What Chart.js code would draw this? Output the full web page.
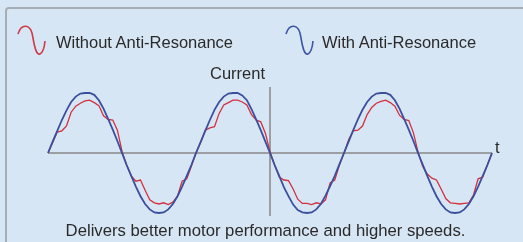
<!DOCTYPE html>
<html lang="en">
<head>
    <meta charset="UTF-8">
    <title>Anti-Resonance</title>
    <script src="https://cdn.jsdelivr.net/npm/chart.js"></script>
    <style>
        body { margin: 0; background: #d7e6f5; font-family: Arial, "Liberation Sans", sans-serif; color: #2a2a2a; }
        #wrap { position: relative; width: 523px; height: 242px; overflow: hidden; }
        #panel { position: absolute; left: 5px; top: 7px; width: 560px; height: 280px; border: 2px solid #a6adb5; border-radius: 4px; }
        canvas { position: absolute; left: 0; top: 0; }
        .lbl { position: absolute; font-size: 16.5px; line-height: 20px; white-space: nowrap; }
    </style>
</head>
<body>
<div id="wrap">
    <div id="panel"></div>
    <canvas id="waveChart" width="523" height="242"></canvas>
    <div class="lbl" style="left:56px; top:32px">Without Anti-Resonance</div>
    <div class="lbl" style="left:322px; top:32px">With Anti-Resonance</div>
    <div class="lbl" style="left:210px; top:63px">Current</div>
    <div class="lbl" style="left:495px; top:137px">t</div>
    <div class="lbl" style="left:0; width:531px; text-align:center; top:221px; font-size:16.7px">Delivers better motor performance and higher speeds.</div>
</div>
<script>
    // samples along t, 16 per half cycle
    const timeSteps = Array.from({ length: 97 }, (_, i) => i);

    const withAntiResonance = [
        0, .19, .37, .55, .71, .85, .94, .99, 1.0, 1.0, .97, .88, .74, .57, .39, .20, 0,
        -.2, -.38, -.56, -.72, -.85, -.94, -.99, -1.0, -.99, -.94, -.85, -.72, -.56, -.38, -.2, 0,
        .18, .37, .55, .72, .85, .94, .99, 1.0, 1.0, .96, .88, .73, .56, .38, .19, 0,
        -.2, -.38, -.57, -.72, -.86, -.95, -.99, -1.0, -.99, -.94, -.85, -.71, -.55, -.38, -.19, 0,
        .19, .38, .56, .72, .85, .94, .99, 1.0, 1.0, .97, .88, .74, .57, .39, .2, 0,
        -.19, -.38, -.56, -.72, -.85, -.94, -.99, -1.0, -.99, -.94, -.85, -.72, -.56, -.38, -.2, 0
    ];

    const withoutAntiResonance = [
        0, .17, .35, .37, .45, .68, .78, .83, .87, .88, .84, .79, .62, .56, .55, .38, .03,
        -.2, -.38, -.47, -.45, -.62, -.78, -.83, -.85, -.83, -.86, -.82, -.72, -.47, -.43, -.22, 0,
        .18, .38, .42, .44, .66, .8, .84, .88, .88, .85, .8, .64, .55, .52, .33, .02,
        -.2, -.4, -.45, -.46, -.6, -.77, -.84, -.84, -.86, -.83, -.85, -.78, -.5, -.45, -.2, 0,
        .22, .37, .38, .45, .64, .76, .83, .86, .88, .84, .78, .63, .56, .54, .34, .02,
        -.22, -.35, -.42, -.45, -.6, -.76, -.83, -.84, -.85, -.84, -.83, -.7, -.43, -.4, -.2, 0
    ];

    const axisLines = {
        id: "axisLines",
        beforeDatasetsDraw(chart) {
            const { ctx, chartArea, scales: { x, y } } = chart;
            ctx.save();
            ctx.strokeStyle = "#9c9ea2";
            ctx.lineWidth = 2;
            ctx.beginPath();
            ctx.moveTo(chartArea.left, y.getPixelForValue(0));
            ctx.lineTo(chartArea.right, y.getPixelForValue(0));
            const vx = Math.round(x.getPixelForValue(48));
            ctx.moveTo(vx, y.getPixelForValue(1.1));
            ctx.lineTo(vx, y.getPixelForValue(-1.05));
            ctx.stroke();
            ctx.restore();
        },
        afterDraw(chart) {
            // little sine glyphs for the legend
            const ctx = chart.ctx;
            function glyph(x0, color) {
                ctx.save();
                ctx.strokeStyle = color;
                ctx.lineWidth = 1.6;
                ctx.beginPath();
                ctx.moveTo(x0, 34);
                ctx.bezierCurveTo(x0 + 3, 24, x0 + 13, 22, x0 + 15, 38);
                ctx.bezierCurveTo(x0 + 17, 50, x0 + 19, 55, x0 + 22, 54);
                ctx.quadraticCurveTo(x0 + 26, 52, x0 + 27, 41);
                ctx.stroke();
                ctx.restore();
            }
            glyph(18, "#cf3a48");
            glyph(286, "#3b55a6");
        }
    };

    new Chart(document.getElementById("waveChart"), {
        type: "line",
        data: {
            labels: timeSteps,
            datasets: [
                {
                    label: "With Anti-Resonance",
                    data: withAntiResonance,
                    borderColor: "#3a4f9e",
                    borderWidth: 1.8,
                    pointRadius: 0,
                    tension: 0,
                },
                {
                    label: "Without Anti-Resonance",
                    data: withoutAntiResonance,
                    borderColor: "#d2303e",
                    borderWidth: 1.3,
                    pointRadius: 0,
                    tension: 0,
                },
            ],
        },
        options: {
            responsive: false,
            animation: false,
            devicePixelRatio: 1,
            layout: { padding: { left: 48, right: 31, top: 87, bottom: 23 } },
            plugins: { legend: { display: false }, tooltip: { enabled: false } },
            scales: {
                x: { display: false },
                y: { display: false, min: -1.1, max: 1.1 },
            },
        },
        plugins: [axisLines],
    });
</script>
</body>
</html>
